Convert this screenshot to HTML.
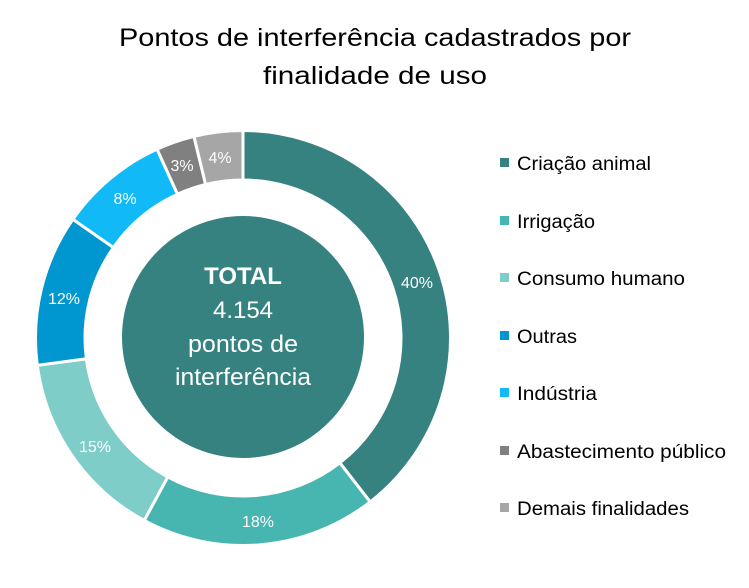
<!DOCTYPE html>
<html><head><meta charset="utf-8"><style>
html,body{margin:0;padding:0;background:#fff;}
svg{display:block;font-family:"Liberation Sans",sans-serif;}
</style></head><body>
<svg id="s" width="749" height="588" viewBox="0 0 749 588">
<text x="375" y="46" font-size="25" text-anchor="middle" fill="#000" textLength="512" lengthAdjust="spacingAndGlyphs">Pontos de interferência cadastrados por</text>
<text x="375" y="84" font-size="25" text-anchor="middle" fill="#000" textLength="224" lengthAdjust="spacingAndGlyphs">finalidade de uso</text>
<g id="ring"></g>
<circle cx="243" cy="337" r="121" fill="#358281"/>
<g fill="#fff" text-anchor="middle">
<text x="243" y="284" font-size="24" font-weight="bold">TOTAL</text>
<text x="243" y="318" font-size="24">4.154</text>
<text x="243" y="352" font-size="24" textLength="110" lengthAdjust="spacingAndGlyphs">pontos de</text>
<text x="243" y="385" font-size="24" textLength="136" lengthAdjust="spacingAndGlyphs">interferência</text>
</g>
<g fill="#fff" font-size="16" text-anchor="middle">
<text x="417" y="288">40%</text>
<text x="258" y="527">18%</text>
<text x="95" y="452">15%</text>
<text x="64" y="304">12%</text>
<text x="125" y="204">8%</text>
<text x="182" y="171">3%</text>
<text x="220" y="163">4%</text>
</g>
<g font-size="19" fill="#000">
<rect x="500" y="158" width="9" height="9" fill="#358281"/><text x="517" y="170" textLength="134" lengthAdjust="spacingAndGlyphs">Criação animal</text>
<rect x="500" y="216" width="9" height="9" fill="#47b5b0"/><text x="517" y="228" textLength="78" lengthAdjust="spacingAndGlyphs">Irrigação</text>
<rect x="500" y="273" width="9" height="9" fill="#7ecdc8"/><text x="517" y="285" textLength="168" lengthAdjust="spacingAndGlyphs">Consumo humano</text>
<rect x="500" y="331" width="9" height="9" fill="#0097d1"/><text x="517" y="343" textLength="60" lengthAdjust="spacingAndGlyphs">Outras</text>
<rect x="500" y="388" width="9" height="9" fill="#12b9f7"/><text x="517" y="400" textLength="80" lengthAdjust="spacingAndGlyphs">Indústria</text>
<rect x="500" y="446" width="9" height="9" fill="#808080"/><text x="517" y="458" textLength="209" lengthAdjust="spacingAndGlyphs">Abastecimento público</text>
<rect x="500" y="503" width="9" height="9" fill="#a6a6a6"/><text x="517" y="515" textLength="172" lengthAdjust="spacingAndGlyphs">Demais finalidades</text>
</g>
</svg>
<script>
(function(){
var v=[39.5,18.4,15.0,11.8,8.5,3.0,3.8],c=["#358281","#47b5b0","#7ecdc8","#0097d1","#12b9f7","#808080","#a6a6a6"];
var cx=243,cy=338,R=207.5,r=158,a=0,g=document.getElementById("ring"),h="";
function p(rad,ang){var t=ang*Math.PI/180;return [cx+rad*Math.sin(t),cy-rad*Math.cos(t)];}
for(var i=0;i<v.length;i++){var a0=a,a1=a+v[i]*3.6;a=a1;var l=(a1-a0)>180?1:0;
var P1=p(R,a0),P2=p(R,a1),P3=p(r,a1),P4=p(r,a0);
h+='<path d="M'+P1+' A'+R+','+R+' 0 '+l+' 1 '+P2+' L'+P3+' A'+r+','+r+' 0 '+l+' 0 '+P4+' Z" fill="'+c[i]+'" stroke="#fff" stroke-width="3"/>';}
g.innerHTML=h;})();
</script>
</body></html>
